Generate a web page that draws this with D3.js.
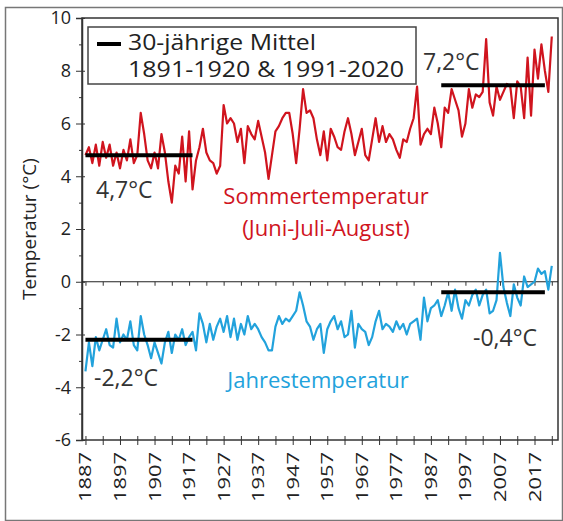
<!DOCTYPE html>
<html>
  <head>
    <meta http-equiv="Content-type" content="text/html; charset=utf-8">
    <title>Temperatur</title>
    <script src="https://d3js.org/d3.v7.min.js"></script>
    <style>
      body { margin: 0; background: #fff; }
      text { font-family: "Open Sans", "Liberation Sans", sans-serif; }
    </style>
  </head>
  <body>
  <div id="chart"></div>
  <script type="text/javascript">
    var firstYear = 1887;
    // Sommertemperatur (Juni-Juli-August), 1887-2022
    var summer = [
      4.8, 5.1, 4.5, 5.2, 4.4, 5.3, 4.7, 5.2, 4.4, 4.9,
      4.3, 5.0, 4.6, 5.4, 4.5, 4.8, 6.4, 5.6, 4.6, 4.3,
      4.9, 4.3, 5.6, 4.9, 3.8, 3.0, 4.4, 4.1, 5.5, 3.8,
      5.7, 3.5, 4.6, 5.1, 5.8, 4.9, 4.6, 4.5, 4.1, 4.4,
      6.7, 6.0, 6.2, 6.0, 5.3, 5.8, 4.5, 5.9, 5.6, 5.4,
      6.1, 5.5, 4.9, 3.9, 4.8, 5.7, 5.9, 6.2, 6.4, 6.4,
      5.6, 4.5, 5.8, 7.3, 6.4, 6.5, 6.2, 5.4, 4.8, 5.7,
      4.6, 5.8, 5.5, 5.1, 5.0, 5.7, 6.2, 5.6, 4.8, 5.3,
      5.8, 4.8, 4.6, 5.4, 6.2, 5.3, 5.9, 5.3, 5.6, 5.4,
      5.0, 4.7, 5.4, 5.3, 5.8, 6.2, 7.4, 5.2, 5.6, 5.8,
      5.6, 6.6, 6.0, 5.1, 6.6, 6.4, 7.3, 6.9, 6.5, 5.5,
      6.0, 7.3, 6.6, 7.1, 7.0, 7.2, 9.2, 6.8, 6.3, 7.4,
      6.9, 7.2, 7.5, 7.4, 6.2, 7.6, 7.4, 6.2, 8.5, 6.3,
      8.8, 7.7, 9.0, 8.0, 7.2, 9.3
    ];
    // Jahrestemperatur, 1887-2022
    var annual = [
      -3.4, -2.3, -3.2, -2.1, -2.6, -2.2, -1.8, -2.4, -2.5, -1.4,
      -2.3, -2.0, -2.2, -1.5, -2.4, -2.6, -1.3, -2.0, -2.4, -2.9,
      -2.3, -2.7, -3.1, -2.3, -1.9, -2.7, -2.0, -2.2, -1.8, -2.4,
      -2.1, -1.9, -2.6, -1.2, -1.6, -2.3, -1.6, -2.2, -1.7, -1.4,
      -1.9, -1.3, -2.1, -1.4, -2.2, -1.6, -2.0, -1.3, -1.8, -1.6,
      -1.8, -2.1, -2.3, -2.6, -2.6, -1.7, -1.3, -1.6, -1.4, -1.5,
      -1.3, -1.1, -0.4, -0.9, -1.5, -1.7, -2.2, -1.8, -1.6, -2.7,
      -1.8, -1.5, -1.3, -1.8, -1.5, -2.1, -2.0, -1.1, -2.5, -1.6,
      -1.8, -1.9, -2.4, -2.1, -1.5, -1.1, -1.8, -1.6, -1.7, -1.9,
      -1.5, -1.8, -1.6, -2.0, -1.6, -1.5, -1.4, -2.2, -0.6, -1.5,
      -1.0, -0.9, -0.7, -1.3, -0.9, -0.4, -1.1, -0.3, -1.0, -1.4,
      -0.7, -0.9, -0.5, -0.3, -0.9, -0.5, -0.3, -1.2, -1.1, -0.7,
      1.1, -0.2, -0.8, -1.3, -0.1, -0.6, -0.9, 0.2, -0.2, -0.1,
      0.0, 0.5, 0.3, 0.4, -0.3, 0.6
    ];
    // 30-jaehrige Mittel: Zeitraeume, Sommer, Jahr
    var meanSpans = [[1887, 1918], [1990, 2020]];
    var summerMeans = [4.8, 7.45];
    var annualMeans = [-2.2, -0.4];
    var summerLabels = ['4,7°C', '7,2°C'];
    var annualLabels = ['-2,2°C', '-0,4°C'];
    var yTicks = [-6, -4, -2, 0, 2, 4, 6, 8, 10];
    var xTickLabels = [1887, 1897, 1907, 1917, 1927, 1937, 1947, 1957, 1967, 1977, 1987, 1997, 2007, 2017];

    var width = 563, height = 521;
    var x = d3.scaleLinear().domain([1886, 2023.8]).range([82, 558]);
    var y = d3.scaleLinear().domain([-6, 10]).range([440, 18]);
    var red = '#d0141e', blue = '#22a2dc';

    var svg = d3.select('#chart').append('svg')
      .attr('width', width).attr('height', height);

    // outer frame
    svg.append('rect').attr('x', 5.5).attr('y', 7.5)
      .attr('width', 557).attr('height', 513)
      .attr('fill', 'none').attr('stroke', '#777').attr('stroke-width', 1.5);

    // plot frame
    svg.append('rect').attr('x', x(1886)).attr('y', y(10))
      .attr('width', x(2023.8) - x(1886)).attr('height', y(-6) - y(10))
      .attr('fill', 'none').attr('stroke', '#333').attr('stroke-width', 1.5);

    // y axis
    var yAxis = d3.axisLeft(y).tickValues(yTicks).tickSize(6).tickPadding(5)
      .tickFormat(d3.format('d'));
    var gy = svg.append('g').attr('transform', 'translate(' + x(1886) + ',0)').call(yAxis);
    gy.select('.domain').attr('stroke', '#333').attr('stroke-width', 1.5);
    gy.selectAll('.tick line').attr('x2', -6).attr('x1', 3).attr('stroke', '#333');
    gy.selectAll('.tick text').style('font-size', '18px').attr('fill', '#222')
      .text(function(d) { return d < 0 ? '-' + Math.abs(d) : d; });
    svg.append('g').attr('transform', 'translate(' + x(1886) + ',0)')
      .call(d3.axisLeft(y).tickValues(d3.range(-5, 10, 2)).tickSize(3).tickFormat(''))
      .call(function(g) { g.select('.domain').remove(); g.selectAll('line').attr('stroke', '#333'); });

    // x axis
    var minor = d3.range(1887, 2023, 5);
    var gx = svg.append('g').attr('transform', 'translate(0,' + y(-6) + ')')
      .call(d3.axisBottom(x).tickValues(minor).tickSize(5).tickFormat(''));
    gx.select('.domain').remove();
    gx.selectAll('.tick line').attr('y1', -4).attr('stroke', '#333');
    svg.selectAll('.xl').data(xTickLabels).enter().append('text')
      .attr('class', 'xl')
      .attr('transform', function(d) { return 'translate(' + (x(d) + 6) + ',' + (y(-6) + 12) + ') rotate(-90)'; })
      .attr('text-anchor', 'end')
      .attr('textLength', 50).attr('lengthAdjust', 'spacingAndGlyphs')
      .style('font-size', '17px').attr('fill', '#222')
      .text(function(d) { return d; });

    // zero line
    svg.append('line').attr('x1', x(1886)).attr('x2', x(2023.8))
      .attr('y1', y(0)).attr('y2', y(0)).attr('stroke', '#222').attr('stroke-width', 1.2);
    svg.append('g').attr('transform', 'translate(0,' + y(0) + ')')
      .call(d3.axisBottom(x).tickValues(minor).tickSize(4).tickFormat(''))
      .call(function(g) { g.select('.domain').remove(); g.selectAll('line').attr('stroke', '#333'); });

    // axis title
    svg.append('text').attr('transform', 'translate(36,' + y(2) + ') rotate(-90)')
      .attr('text-anchor', 'middle').style('font-size', '19px').attr('fill', '#222')
      .text('Temperatur (°C)');

    var line = d3.line()
      .x(function(d, i) { return x(firstYear + i); })
      .y(function(d) { return y(d); });

    svg.append('path').datum(summer).attr('d', line)
      .attr('fill', 'none').attr('stroke', red).attr('stroke-width', 2.2)
      .attr('stroke-linejoin', 'round');
    svg.append('path').datum(annual).attr('d', line)
      .attr('fill', 'none').attr('stroke', blue).attr('stroke-width', 2.2)
      .attr('stroke-linejoin', 'round');

    // 30-year means
    function meanLines(vals) {
      svg.selectAll(null).data(vals).enter().append('line')
        .attr('x1', function(d, i) { return x(meanSpans[i][0]); })
        .attr('x2', function(d, i) { return x(meanSpans[i][1]); })
        .attr('y1', function(d) { return y(d); })
        .attr('y2', function(d) { return y(d); })
        .attr('stroke', '#000').attr('stroke-width', 4);
    }
    meanLines(summerMeans);
    meanLines(annualMeans);

    var lab = svg.append('g').style('font-size', '23px').attr('fill', '#333');
    lab.append('text').attr('x', 96).attr('y', 198).text(summerLabels[0]);
    lab.append('text').attr('x', 423).attr('y', 70).text(summerLabels[1]);
    lab.append('text').attr('x', 94).attr('y', 386).text(annualLabels[0]);
    lab.append('text').attr('x', 473).attr('y', 346).text(annualLabels[1]);

    // series names
    svg.append('text').attr('x', 326).attr('y', 204).attr('text-anchor', 'middle')
      .style('font-size', '22px').attr('fill', red).text('Sommertemperatur');
    svg.append('text').attr('x', 326).attr('y', 236).attr('text-anchor', 'middle')
      .style('font-size', '22px').attr('fill', red).text('(Juni-Juli-August)');
    svg.append('text').attr('x', 318).attr('y', 388).attr('text-anchor', 'middle')
      .style('font-size', '22px').attr('fill', blue).text('Jahrestemperatur');

    // legend
    var lg = svg.append('g');
    lg.append('rect').attr('x', 88).attr('y', 27).attr('width', 328).attr('height', 57)
      .attr('fill', '#fff').attr('stroke', '#444').attr('stroke-width', 1.5);
    lg.append('line').attr('x1', 97).attr('x2', 121).attr('y1', 44).attr('y2', 44)
      .attr('stroke', '#000').attr('stroke-width', 4);
    lg.append('text').attr('x', 128).attr('y', 50).style('font-size', '21px').attr('fill', '#222')
      .attr('textLength', 188).attr('lengthAdjust', 'spacingAndGlyphs')
      .text('30-jährige Mittel');
    lg.append('text').attr('x', 128).attr('y', 77).style('font-size', '21px').attr('fill', '#222')
      .attr('textLength', 276).attr('lengthAdjust', 'spacingAndGlyphs')
      .text('1891-1920 & 1991-2020');
  </script>
  </body>
</html>
